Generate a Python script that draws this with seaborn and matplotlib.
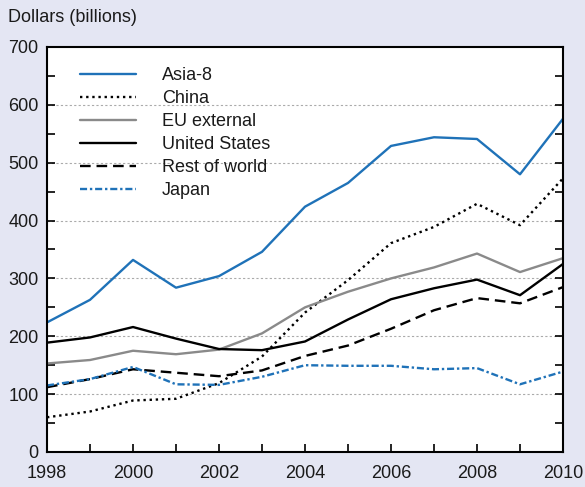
import matplotlib
matplotlib.use("Agg")
import matplotlib.pyplot as plt
import seaborn as sns
import numpy as np
from matplotlib.ticker import MultipleLocator

years = list(range(1998, 2011))
asia8 = [224, 263, 332, 284, 304, 346, 424, 465, 529, 544, 541, 480, 576]
china = [60, 70, 89, 92, 119, 165, 241, 297, 361, 389, 429, 392, 473]
eu_external = [153, 159, 175, 169, 177, 205, 250, 277, 300, 319, 343, 311, 335]
united_states = [189, 198, 216, 196, 178, 176, 191, 229, 264, 283, 298, 271, 325]
rest_of_world = [112, 126, 143, 137, 131, 141, 166, 184, 213, 245, 266, 257, 285]
japan = [115, 126, 147, 117, 116, 130, 150, 149, 149, 143, 145, 117, 139]

series_names = ["Asia-8", "China", "EU external", "United States", "Rest of world", "Japan"]
x_tick_labels = ["1998", "2000", "2002", "2004", "2006", "2008", "2010"]
y_tick_labels = ["0", "100", "200", "300", "400", "500", "600", "700"]

sns.set_theme(style="white")
plt.rcParams["font.family"] = ["Liberation Sans", "DejaVu Sans"]

BG = "#e4e6f3"
BLUE = "#1f72b8"
fig = plt.figure(figsize=(5.85, 4.87), dpi=100, facecolor=BG)
ax = fig.add_axes([47/585, 1 - 452/487, (563-47)/585, (452-47)/487])
ax.set_facecolor("white")

styles = [
    dict(color=BLUE, linestyle="-"),
    dict(color="black", linestyle=(0, (1, 1.6))),
    dict(color="#8a8a8a", linestyle="-"),
    dict(color="black", linestyle="-"),
    dict(color="black", linestyle=(0, (4.5, 2.5))),
    dict(color=BLUE, linestyle=(0, (3, 1.2, 1, 1.2))),
]
data = [asia8, china, eu_external, united_states, rest_of_world, japan]
for name, vals, st in zip(series_names, data, styles):
    sns.lineplot(x=years, y=vals, ax=ax, label=name, linewidth=1.7, **st)

ax.set_xlim(1998, 2010)
ax.set_ylim(0, 700)
ax.set_xticks([int(t) for t in x_tick_labels])
ax.set_xticklabels(x_tick_labels)
ax.set_yticks([int(t) for t in y_tick_labels])
ax.set_yticklabels(y_tick_labels)
ax.xaxis.set_minor_locator(MultipleLocator(1))
ax.yaxis.set_minor_locator(MultipleLocator(50))
ax.tick_params(which="both", direction="in", length=6, width=1.2, color="black",
               top=False, right=True, left=True, bottom=True)
ax.tick_params(axis="x", which="major", pad=9, labelsize=13, labelcolor="#1a1a1a")
ax.tick_params(axis="y", which="major", pad=6, labelsize=13, labelcolor="#1a1a1a")

for g in range(100, 700, 100):
    ax.axhline(g, color="#ababab", linestyle=(0, (2, 2)), linewidth=0.8, zorder=0)

for s in ax.spines.values():
    s.set_color("black")
    s.set_linewidth(1.5)
    s.set_visible(True)

leg = ax.legend(loc="upper left", bbox_to_anchor=(0.064, 0.95), frameon=False,
                fontsize=13, handlelength=3.1, handletextpad=1.45, labelspacing=0.33,
                borderpad=0, borderaxespad=0)
for t in leg.get_texts():
    t.set_color("#1a1a1a")

fig.text(8/585, 1 - 18/487, "Dollars (billions)", fontsize=13, va="center", ha="left", color="#1a1a1a")

fig.savefig("out.png", dpi=100, facecolor=BG)
